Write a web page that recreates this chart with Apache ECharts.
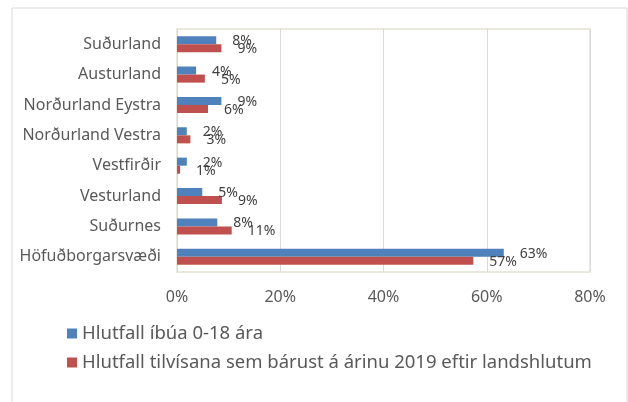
<!DOCTYPE html>
<html>
<head>
<meta charset="utf-8">
<script src="https://cdn.jsdelivr.net/npm/echarts@6/dist/echarts.min.js"></script>
<style>
  html, body { margin: 0; padding: 0; background: #fff; }
  #myChart { width: 628px; height: 402px; }
</style>
</head>
<body>
<div id="myChart"></div>
<script>
// svæði (efst til neðst)
const regions = ['Suðurland', 'Austurland', 'Norðurland Eystra', 'Norðurland Vestra', 'Vestfirðir', 'Vesturland', 'Suðurnes', 'Höfuðborgarsvæði']
// Hlutfall íbúa 0-18 ára (%)
const ibuar = [7.6, 3.7, 8.6, 1.9, 1.9, 4.9, 7.8, 63.3]
// Hlutfall tilvísana 2019 (%)
const tilvisanir = [8.6, 5.4, 6.0, 2.6, 0.6, 8.7, 10.6, 57.4]
const xTicks = [0, 20, 40, 60, 80]
const seriesNames = ['Hlutfall íbúa 0-18 ára', 'Hlutfall tilvísana sem bárust á árinu 2019 eftir landshlutum']

const font = 'Noto Sans'
const myChart = echarts.init(document.getElementById('myChart'))

const pctLabel = (dy) => ({
  show: true,
  position: 'right',
  distance: 16,
  offset: [0, dy],
  formatter: p => Math.round(p.value) + '%',
  color: '#404040',
  fontFamily: font,
  fontSize: 14
})

myChart.setOption({
  animation: false,
  textStyle: { fontFamily: font },
  color: ['#4F81BD', '#C0504D'],
  graphic: [{
    type: 'rect',
    shape: { x: 12, y: 8, width: 615, height: 400 },
    style: { fill: 'none', stroke: '#D9D9D9', lineWidth: 1 },
    silent: true
  }],
  legend: {
    orient: 'vertical',
    left: 62,
    top: 319,
    icon: 'rect',
    itemWidth: 10,
    itemHeight: 10,
    itemGap: 10,
    textStyle: { color: '#595959', fontSize: 18.5, fontFamily: font },
    data: seriesNames
  },
  grid: {
    left: 177,
    right: 38,
    top: 29,
    bottom: 130,
    show: true,
    borderColor: '#EBE8E0',
    borderWidth: 2
  },
  xAxis: {
    type: 'value',
    min: xTicks[0],
    max: xTicks[xTicks.length - 1],
    interval: 20,
    axisLine: { show: false },
    axisTick: { show: false },
    splitLine: { lineStyle: { color: '#D9D9D9', width: 1 } },
    axisLabel: {
      formatter: v => v + '%',
      color: '#595959',
      fontSize: 16,
      margin: 17
    }
  },
  yAxis: {
    type: 'category',
    inverse: true,
    data: regions,
    axisLine: { lineStyle: { color: '#D9D9D9' } },
    axisTick: { show: false },
    axisLabel: { color: '#595959', fontSize: 16, margin: 16 }
  },
  series: [
    {
      name: seriesNames[0],
      type: 'bar',
      data: ibuar,
      barGap: '0%',
      barCategoryGap: '47%',
      label: pctLabel(1)
    },
    {
      name: seriesNames[1],
      type: 'bar',
      data: tilvisanir,
      label: pctLabel(1)
    }
  ]
})
</script>
</body>
</html>
